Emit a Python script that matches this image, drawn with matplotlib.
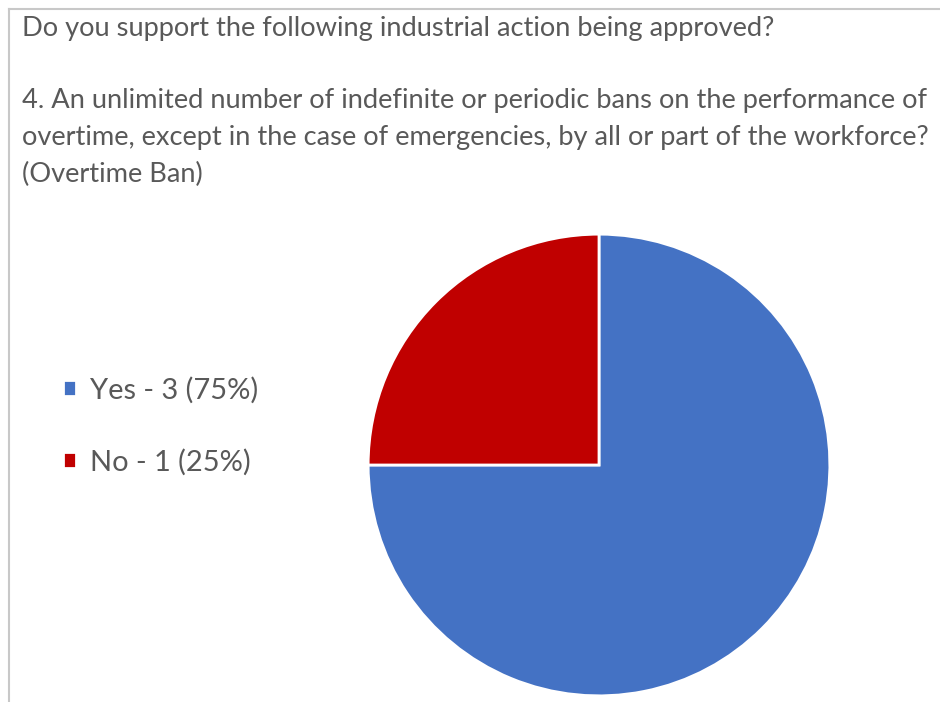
import matplotlib
matplotlib.use("Agg")
import matplotlib.pyplot as plt
from matplotlib.lines import Line2D

# survey answers
answers = ["Yes", "No"]
counts = [3, 1]
colours = ["#4472C4", "#C00000"]

question = "Do you support the following industrial action being approved?"
item_lines = ["4. An unlimited number of indefinite or periodic bans on the performance of",
              "overtime, except in the case of emergencies, by all or part of the workforce?",
              "(Overtime Ban)"]

plt.rcParams['font.family'] = ['Lato', 'DejaVu Sans']
grey = "#595959"

W, H = 940, 702
fig = plt.figure(figsize=(W / 100, H / 100), dpi=100)
fig.patch.set_facecolor("white")

# frame lines (top and left)
fig.add_artist(Line2D([8.5 / W, 1], [1 - 8.5 / H, 1 - 8.5 / H], color="#c8c8c8", lw=1.5))
fig.add_artist(Line2D([8.5 / W, 8.5 / W], [0, 1 - 8.5 / H], color="#c8c8c8", lw=1.5))

# heading text, one line at a time (baselines in px from top)
fig.text(22 / W, 1 - 36 / H, question, fontsize=19.6, color=grey, va="baseline")
for i, line in enumerate(item_lines):
    fig.text(22 / W, 1 - (108 + 37 * i) / H, line, fontsize=19.6, color=grey, va="baseline")

# pie
cx, cy, r = 599, 465, 232
ax = fig.add_axes([(cx - r) / W, (H - cy - r) / H, 2 * r / W, 2 * r / H])
total = sum(counts)
labels = [f"{a} - {c} ({round(100 * c / total)}%)" for a, c in zip(answers, counts)]
wedges, _ = ax.pie(counts, colors=colours, startangle=90, counterclock=False,
                   radius=1, wedgeprops=dict(edgecolor="white", linewidth=2))
ax.set_xlim(-1.005, 1.005)
ax.set_ylim(-1.005, 1.005)
ax.set_aspect("equal")
ax.axis("off")

leg = fig.legend(wedges, labels, loc="upper left", bbox_to_anchor=(48 / W, 1 - 362 / H),
                 frameon=False, fontsize=20.9, handlelength=0.45, handleheight=0.45,
                 handletextpad=0.5, labelspacing=1.55, borderpad=0)
for t in leg.get_texts():
    t.set_color(grey)

fig.savefig("out.png", dpi=100)
